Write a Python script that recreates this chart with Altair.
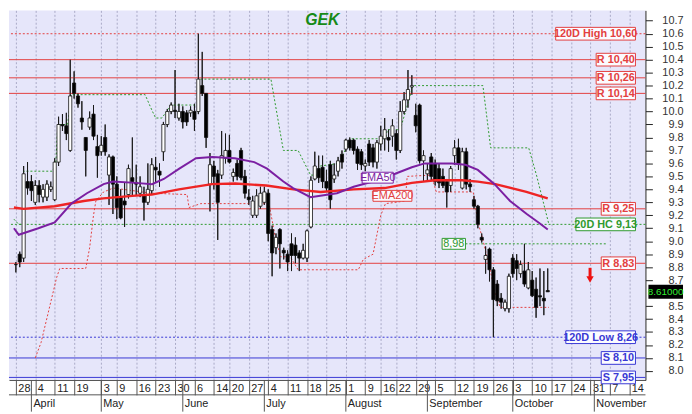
import altair as alt
import pandas as pd
import numpy as np

# ---------------- data ----------------
day_idx = list(range(138))
opens = [8.82,8.90,8.87,9.46,9.46,9.30,9.43,9.34,9.34,9.40,
 9.32,9.61,9.90,9.89,9.70,10.22,10.12,9.95,9.80,9.88,
 9.98,9.73,9.69,9.80,9.51,9.65,9.44,9.34,9.31,9.36,
 9.49,9.45,9.37,9.35,9.30,9.39,9.57,9.54,9.69,9.90,
 10.00,10.01,9.95,10.00,9.99,9.99,10.00,10.00,10.20,10.14,
 9.44,9.58,9.52,9.51,9.64,9.70,9.50,9.60,9.70,9.50,
 9.34,9.20,9.20,9.27,9.30,9.37,9.09,8.95,9.09,8.93,
 8.90,8.98,8.97,8.91,8.87,8.87,9.11,9.48,9.56,9.57,
 9.46,9.59,9.48,9.54,9.67,9.71,9.78,9.78,9.71,9.69,
 9.58,9.75,9.72,9.61,9.75,9.79,9.80,9.81,9.83,9.70,
 10.00,10.09,10.19,9.97,10.05,9.62,9.52,9.65,9.60,9.56,
 9.50,9.46,9.43,9.66,9.72,9.41,9.69,9.44,9.32,9.27,
 9.03,8.86,8.94,8.78,8.67,8.56,8.48,8.48,8.87,8.85,
 8.75,8.77,8.64,8.70,8.63,8.58,8.56,8.62]
highs = [8.84,8.92,9.58,9.61,9.51,9.47,9.47,9.44,9.47,9.46,
 9.64,9.96,9.98,9.99,10.40,10.31,10.14,10.08,9.80,10.00,
 10.05,9.82,9.81,9.90,9.67,9.66,9.50,9.40,9.45,9.59,
 9.80,9.59,9.50,9.42,9.60,9.64,9.65,9.60,9.92,10.02,
 10.07,10.32,10.06,10.04,10.01,10.04,10.06,10.60,10.46,10.14,
 9.68,9.62,9.55,9.85,9.83,9.82,9.56,9.63,9.72,9.55,
 9.40,9.35,9.40,9.42,9.42,9.40,9.12,9.06,9.10,8.95,
 8.93,9.06,9.03,8.93,8.98,9.09,9.50,9.69,9.66,9.66,
 9.55,9.62,9.60,9.65,9.70,9.79,9.80,9.79,9.73,9.71,
 9.63,9.78,9.75,9.78,9.89,9.95,9.86,9.94,9.86,10.08,
 10.15,10.32,10.28,10.06,10.06,9.70,9.60,9.68,9.63,9.60,
 9.56,9.48,9.58,9.78,9.79,9.72,9.72,9.48,9.35,9.28,
 9.06,8.96,8.95,8.80,8.70,8.60,8.55,8.75,8.90,8.90,
 8.85,8.98,8.84,8.77,8.72,8.79,8.77,8.79]
lows = [8.76,8.80,8.84,9.36,9.31,9.28,9.30,9.30,9.31,9.38,
 9.31,9.58,9.85,9.78,9.69,10.10,10.03,9.86,9.50,9.86,
 9.78,9.49,9.66,9.66,9.28,9.21,9.17,9.17,9.11,9.33,
 9.35,9.35,9.34,9.16,9.28,9.36,9.45,9.42,9.62,9.88,
 9.98,9.95,9.93,9.87,9.89,9.96,9.85,9.98,10.12,9.72,
 9.23,9.40,9.01,9.48,9.60,9.60,9.46,9.47,9.47,9.33,
 9.28,9.18,9.18,9.25,9.28,9.00,8.73,8.90,8.79,8.86,
 8.77,8.77,8.83,8.77,8.86,8.84,9.10,9.47,9.45,9.41,
 9.39,9.25,9.45,9.50,9.56,9.69,9.70,9.67,9.55,9.55,
 9.54,9.58,9.57,9.56,9.70,9.70,9.69,9.73,9.63,9.68,
 9.98,10.03,10.13,9.84,9.60,9.46,9.47,9.47,9.43,9.41,
 9.41,9.26,9.38,9.59,9.55,9.40,9.40,9.38,9.25,9.10,
 8.99,8.75,8.69,8.26,8.50,8.48,8.46,8.45,8.72,8.70,
 8.72,8.65,8.63,8.57,8.41,8.50,8.43,8.61]
closes = [8.82,8.84,9.52,9.41,9.39,9.43,9.36,9.40,9.44,9.42,
 9.61,9.90,9.89,9.83,10.12,10.14,10.06,9.92,9.70,9.95,
 9.81,9.66,9.74,9.69,9.65,9.44,9.26,9.18,9.28,9.56,
 9.46,9.44,9.42,9.30,9.40,9.59,9.55,9.51,9.90,10.00,
 10.05,10.00,10.00,9.92,9.92,10.01,9.94,10.25,10.14,9.80,
 9.59,9.50,9.30,9.66,9.70,9.61,9.53,9.50,9.49,9.37,
 9.32,9.31,9.35,9.37,9.38,9.06,8.91,9.03,8.98,8.91,
 8.84,8.89,8.89,8.87,8.93,9.08,9.47,9.58,9.49,9.46,
 9.41,9.32,9.51,9.62,9.61,9.78,9.72,9.70,9.60,9.59,
 9.60,9.61,9.61,9.76,9.81,9.86,9.78,9.89,9.70,10.00,
 10.09,10.17,10.20,9.89,9.62,9.66,9.55,9.50,9.46,9.45,
 9.43,9.38,9.56,9.72,9.60,9.69,9.44,9.42,9.27,9.13,
 9.01,8.89,8.78,8.55,8.54,8.53,8.53,8.73,8.75,8.79,
 8.82,8.67,8.78,8.58,8.49,8.57,8.54,8.61]

ema50_idx = [-0.5,0.75,5.8,10,14.3,18.3,22.6,25,30.8,35.1,38.1,42.1,46.4,50.6,56.4,61.4,64.7,
             68.9,71.4,75.9,82.7,87,92,97.7,102,105.3,112.3,115.8,119,123.3,127.3,131.6,134.8,137]
ema50_val = [9.10,9.05,9.10,9.145,9.29,9.37,9.44,9.46,9.45,9.44,9.48,9.56,9.64,9.65,9.64,9.61,9.56,
             9.46,9.41,9.34,9.37,9.42,9.46,9.52,9.57,9.60,9.60,9.59,9.55,9.44,9.31,9.21,9.14,9.09]
ema200_idx = [-0.5,2,10,17.5,22.5,30,35,42,50.5,56.5,64.5,71.5,78.5,87,95,102,108,115,119,123.5,131.5,137]
ema200_val = [9.26,9.25,9.27,9.31,9.33,9.35,9.36,9.40,9.44,9.445,9.43,9.40,9.38,9.40,9.41,9.45,9.47,
              9.47,9.46,9.44,9.38,9.33]

hc_idx = [-0.5,0.75,1.8,2.0,9.5,10.3,10.8,13.3,14.3,33.3,34.3,35.2,36,37.6,40,46.8,47.2,65.7,68.9,
          72.7,75.9,77.7,78.4,83.2,86.2,95.2,95.7,99,102.3,120.3,122.3,132.1,134.1,137.3]
hc_val = [9.17,9.13,9.13,9.54,9.54,9.61,9.90,9.90,10.13,10.13,10.06,10.00,9.95,9.95,10.05,10.05,10.25,
          10.25,9.70,9.70,9.51,9.51,9.58,9.60,9.79,9.79,9.86,9.86,10.20,10.20,9.72,9.72,9.51,9.13]
lc_idx = [5.0,6.5,10.5,11.3,18.0,19.0,20.0,20.6,22.6,25.1,35.1,44.1,44.6,47.6,65.2,66.7,68.2,70.7,
          72.7,88.2,89.5,92,94,95.2,100.3,100.8,107,108.3,117.8,119,120.3,122,123.6,124.8,137.3]
lc_val = [8.10,8.22,8.72,8.79,8.79,8.95,9.20,9.31,9.38,9.41,9.37,9.36,9.26,9.29,9.29,9.05,8.88,8.88,
          8.78,8.78,8.86,8.90,9.20,9.29,9.31,9.50,9.51,9.38,9.38,9.15,9.01,8.80,8.58,8.49,8.49]

res_levels = [10.40, 10.26, 10.14, 9.25, 8.83]
sup_levels = [8.10, 7.95]
high120 = [10.60]
low120 = [8.26]
hc20 = [9.13]
seg_level = [8.98]
seg_start = [115.8]
seg_end = [152.4]

lbl_text = ["120D High 10,60", "R 10,40", "R 10,26", "R 10,14", "R 9,25", "20D HC 9,13",
            "R 8,83", "120D Low 8,26", "S 8,10", "S 7,95"]
lbl_value = [10.60, 10.40, 10.26, 10.14, 9.25, 9.13, 8.83, 8.26, 8.10, 7.95]
lbl_kind = ["r", "r", "r", "r", "r", "g", "r", "b", "b", "b"]

week_idx = [0,5,10,15,22,26,31,36,41,46,51,55,60,65,70,75,80,85,90,94,98,103,108,113,118,123,
            128,133,138,143,148,153,158]
week_lbl = ['28','4','11','19','3','9','16','23','30','6','14','20','27','4','11','18','25','1','9',
            '16','22','29','5','12','19','26','3','10','17','24','31','7','14']
month_idx = [4,22,43,64,85,106,128,149]
month_lbl = ['April','May','June','July','August','September','October','November']
# 8.6 sits behind the last-price tag in the reference
y_ticks = [8.0,8.1,8.2,8.3,8.4,8.5,8.7,8.8,8.9,9.0,9.1,9.2,9.3,9.4,9.5,9.6,9.7,9.8,9.9,
           10.0,10.1,10.2,10.3,10.4,10.5,10.6,10.7]
last_price = 8.61
title_text = "GEK"

# ---------------- styles ----------------
W, H = 644, 374
RED = '#e34040'
GREEN = '#2f9a2f'
BLUE = '#3838d4'
PURPLE = '#7b1fa2'
FONT = 'Liberation Sans'
COLS = {'r': RED, 'g': GREEN, 'b': BLUE}

XS = alt.Scale(domain=[-0.5, 160.9], nice=False, zero=False)
YS = alt.Scale(domain=[7.93, 10.78], nice=False, zero=False)

week_expr = "[" + ",".join("'%s'" % s for s in week_lbl) + "][indexof([" + \
    ",".join(str(v) for v in week_idx) + "], datum.value)]"

x_axis = alt.Axis(values=week_idx, labelExpr=week_expr, orient='bottom', title=None,
                  tickSize=15, tickColor='#555555', domainColor='#555555',
                  grid=True, gridDash=[2, 2], gridColor='#a9a9c6',
                  labelAlign='left', labelBaseline='top', labelPadding=-12, labelOffset=2,
                  labelFontSize=11, labelColor='#222222', labelFont=FONT,
                  labelOverlap=False, labelFlush=False, labelBound=False)
y_axis = alt.Axis(values=y_ticks, orient='right', format='.1f', title=None,
                  tickSize=7, tickColor='#222222', domainColor='#222222', grid=False,
                  labelAlign='right', labelBaseline='middle', labelPadding=31,
                  labelFontSize=11, labelColor='#333333', labelFont=FONT,
                  labelOverlap=False, labelFlush=False, labelBound=False)


def xe(f):
    return alt.X(f + ':Q', scale=XS, axis=x_axis)


def ye(f):
    return alt.Y(f + ':Q', scale=YS, axis=y_axis)


# ---------------- tables ----------------
cd = pd.DataFrame({'i': day_idx, 'o': opens, 'h': highs, 'l': lows, 'c': closes})
cd['bt'] = np.maximum(cd['o'], cd['c'])
cd['bb'] = np.minimum(cd['o'], cd['c'])
cd['h'] = np.maximum(cd['h'], cd['bt'])
cd['l'] = np.minimum(cd['l'], cd['bb'])

right_i = 159.6
lb = pd.DataFrame({'t': lbl_text, 'v': lbl_value,
                   'col': [COLS[k] for k in lbl_kind]})
lb['w'] = lb['t'].str.len() * 5.2 + 4
lb['x2'] = right_i
lb['x1'] = right_i - lb['w'] / 3.99
lb['xc'] = (lb['x1'] + lb['x2']) / 2
lb['y1'] = lb['v'] + 0.049
lb['y2'] = lb['v'] - 0.049

small = pd.DataFrame({'t': ['EMA50', 'EMA200', '8,98'],
                      'xc': [93.2, 97.0, 112.8],
                      'v': [9.49, 9.35, 8.98],
                      'w': [32, 40, 24],
                      'col': [PURPLE, RED, GREEN]})
small['x1'] = small['xc'] - small['w'] / 2 / 3.99
small['x2'] = small['xc'] + small['w'] / 2 / 3.99
small['y1'] = small['v'] + 0.042
small['y2'] = small['v'] - 0.042

# ---------------- layers ----------------
layers = []

# candles first (carries the axes)
layers.append(alt.Chart(cd).mark_rule(color='#1a1a1a', strokeWidth=1)
              .encode(x=xe('i'), y=ye('l'), y2='h'))


def hlines(vals, color, dash=None):
    m = alt.Chart(pd.DataFrame({'v': vals}))
    if dash:
        m = m.mark_rule(color=color, strokeWidth=1, strokeDash=dash)
    else:
        m = m.mark_rule(color=color, strokeWidth=1)
    return m.encode(y=ye('v'))


layers.append(hlines(res_levels, RED))
layers.append(hlines(sup_levels, BLUE))
layers.append(hlines(high120, RED, [2, 2]))
layers.append(hlines(low120, BLUE, [2, 2]))
layers.append(hlines(hc20, GREEN, [2, 2]))
layers.append(alt.Chart(pd.DataFrame({'a': seg_start, 'b': seg_end, 'v': seg_level}))
              .mark_rule(color=GREEN, strokeWidth=1, strokeDash=[2, 2])
              .encode(x=xe('a'), x2='b', y=ye('v')))

# channel lines
layers.append(alt.Chart(pd.DataFrame({'i': hc_idx, 'v': hc_val}))
              .mark_line(color=GREEN, strokeWidth=1, strokeDash=[2, 2])
              .encode(x=xe('i'), y=ye('v')))
layers.append(alt.Chart(pd.DataFrame({'i': lc_idx, 'v': lc_val}))
              .mark_line(color=RED, strokeWidth=1, strokeDash=[2, 2])
              .encode(x=xe('i'), y=ye('v')))

# wicks again over the level lines, then bodies
layers.append(alt.Chart(cd).mark_rule(color='#1a1a1a', strokeWidth=1)
              .encode(x=xe('i'), y=ye('l'), y2='h'))
layers.append(alt.Chart(cd).mark_bar(size=3.2, stroke='#111111', strokeWidth=0.8)
              .encode(x=xe('i'), y=ye('bb'), y2='bt',
                      fill=alt.condition('datum.c >= datum.o', alt.value('white'), alt.value('black'))))

# EMAs
layers.append(alt.Chart(pd.DataFrame({'i': ema200_idx, 'v': ema200_val}))
              .mark_line(color='#ee2424', strokeWidth=2.4)
              .encode(x=xe('i'), y=ye('v')))
layers.append(alt.Chart(pd.DataFrame({'i': ema50_idx, 'v': ema50_val}))
              .mark_line(color=PURPLE, strokeWidth=2)
              .encode(x=xe('i'), y=ye('v')))

# label boxes
for df, bold in ((lb, 'bold'), (small, 'normal')):
    layers.append(alt.Chart(df).mark_rect(fill='#fbfbff', strokeWidth=1)
                  .encode(x=xe('x1'), x2='x2', y=ye('y1'), y2='y2',
                          stroke=alt.Stroke('col:N', scale=None)))
    layers.append(alt.Chart(df).mark_text(font=FONT, fontSize=11, fontWeight=bold,
                                          align='center', baseline='middle', dy=0.5)
                  .encode(x=xe('xc'), y=ye('v'), text='t:N',
                          color=alt.Color('col:N', scale=None)))

# price tag
pt = pd.DataFrame({'v': [last_price], 'a': [last_price + 0.054], 'b': [last_price - 0.054],
                   't': ['%.5f' % last_price]})
layers.append(alt.Chart(pt).mark_rect(fill='black')
              .encode(x=alt.value(647), x2=alt.value(682), y=ye('a'), y2='b'))
layers.append(alt.Chart(pt).mark_text(font=FONT, fontSize=10, color='#33ee33',
                                      align='center', baseline='middle')
              .encode(x=alt.value(664.5), y=ye('v'), text='t:N'))

# red arrow
ar = pd.DataFrame({'i': [147.9], 'a': [8.795], 'b': [8.725], 'p': [8.705]})
layers.append(alt.Chart(ar).mark_rule(color='#ee1111', strokeWidth=3)
              .encode(x=xe('i'), y=ye('a'), y2='b'))
layers.append(alt.Chart(ar).mark_point(shape='triangle-down', filled=True, color='#ee1111',
                                       size=55, opacity=1)
              .encode(x=xe('i'), y=ye('p')))

# title
layers.append(alt.Chart(pd.DataFrame({'t': [title_text]}))
              .mark_text(font=FONT, fontSize=16, fontWeight='bold', fontStyle='italic',
                         color='#178a17', align='center', baseline='middle')
              .encode(x=alt.value(317), y=alt.value(10), text='t:N'))

# month row
layers.append(alt.Chart(pd.DataFrame({'z': [0]})).mark_rule(color='#555555')
              .encode(x=alt.value(0), x2=alt.value(W), y=alt.value(H + 15)))
mdf = pd.DataFrame({'m': month_idx, 't': month_lbl})
layers.append(alt.Chart(mdf).mark_rule(color='#555555')
              .encode(x=xe('m'), y=alt.value(H), y2=alt.value(H + 32)))
layers.append(alt.Chart(mdf).mark_text(font=FONT, fontSize=11, color='#222222',
                                       align='left', baseline='top', dx=2)
              .encode(x=xe('m'), y=alt.value(H + 18), text='t:N'))

chart = alt.layer(*layers).properties(width=W, height=H, padding=0, background='white') \
    .configure_view(strokeWidth=0, fill='#E6E6FA')

chart.save("out.html", embed_options={"renderer": "svg", "actions": False})
